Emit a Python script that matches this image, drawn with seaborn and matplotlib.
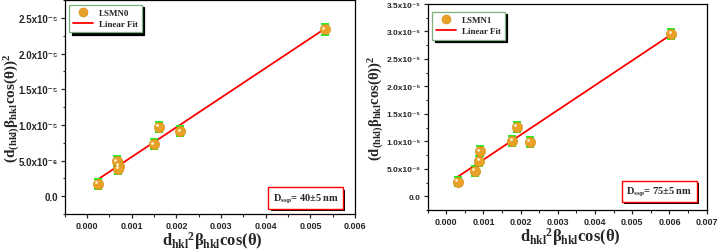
import numpy as np
import seaborn as sns
import matplotlib
matplotlib.use("Agg")
import matplotlib.pyplot as plt
from matplotlib.lines import Line2D
from matplotlib.ticker import FuncFormatter, MultipleLocator
import matplotlib.patheffects as pe
import matplotlib.transforms as mtransforms

# values
lsmn0_x = [0.00024, 0.00067, 0.00071, 0.00070, 0.00150, 0.00161, 0.00209, 0.00532]
lsmn0_y = [1.7e-6, 4.9e-6, 4.3e-6, 3.8e-6, 7.3e-6, 9.7e-6, 9.1e-6, 2.34e-5]
lsmn0_err = [7e-7, 7e-7, 7e-7, 7e-7, 7e-7, 7e-7, 7e-7, 8e-7]

lsmn1_x = [0.00031, 0.00077, 0.00090, 0.00089, 0.00178, 0.00189, 0.00225, 0.00605]
lsmn1_y = [2.7e-6, 4.6e-6, 8.2e-6, 6.5e-6, 1.01e-5, 1.27e-5, 9.9e-6, 2.96e-5]
lsmn1_err = [9e-7, 9e-7, 9e-7, 9e-7, 9e-7, 9e-7, 9e-7, 9e-7]

samples = ["LSMN0", "LSMN1"]
sizes = ["D$_{\\mathregular{ssp}}$= 40±5 nm", "D$_{\\mathregular{ssp}}$= 75±5 nm"]

sns.set_style("white")
plt.rcParams['font.family'] = ['Liberation Sans', 'DejaVu Sans']
plt.rcParams['font.weight'] = 'bold'
plt.rcParams['mathtext.fontset'] = 'custom'
plt.rcParams['mathtext.rm'] = 'Liberation Serif:bold'
plt.rcParams['mathtext.it'] = 'Liberation Serif:bold'
plt.rcParams['mathtext.bf'] = 'Liberation Serif:bold'

SUP = str.maketrans("-0123456789", "⁻⁰¹²³⁴⁵⁶⁷⁸⁹")


def sci_fmt(v, pos):
    if abs(v) < 1e-12:
        return "0.0"
    e = int(np.floor(np.log10(abs(v))))
    return f"{v / 10**e:.1f}x10" + str(e).translate(SUP)


orange = '#E9A227'
green = '#22EE22'
serif = ['Liberation Serif', 'DejaVu Serif']

fig = plt.figure(figsize=(7.2, 2.51), dpi=100)
ax1 = fig.add_axes([0.090, 0.143, 0.403, 0.853])
ax2 = fig.add_axes([0.594, 0.159, 0.3875, 0.821])

# axes, data, limits, ytick size, ylabel size, ylabel x, xlabel y, text box pos
panels = [
    (ax1, lsmn0_x, lsmn0_y, lsmn0_err, (-0.0005, 0.006), (-2.5e-6, 2.75e-5), 7, 11, -0.148, -0.07, (0.716, 0.075)),
    (ax2, lsmn1_x, lsmn1_y, lsmn1_err, (-0.0005, 0.007), (-2.5e-6, 3.5e-5), 6, 10.5, -0.148, -0.075, (0.712, 0.09)),
]

for i, (ax, xs, ys, errs, xlim, ylim, yts, yls, ylx, xly, boxpos) in enumerate(panels):
    # linear fit
    sns.regplot(x=np.array(xs), y=np.array(ys), ax=ax, scatter=False, ci=None,
                truncate=True, color='red', line_kws={'lw': 1.3, 'zorder': 2})
    ax.errorbar(xs, ys, yerr=errs, fmt='none', ecolor=green, elinewidth=1.4,
                capsize=2.8, capthick=1.4, zorder=3)
    sns.scatterplot(x=xs, y=ys, ax=ax, color=orange, s=55, edgecolor='#C98A10',
                    linewidth=0.4, zorder=4)
    # small highlight on the balls
    hl = mtransforms.offset_copy(ax.transData, fig=fig, x=-1.2, y=1.2, units='points')
    ax.scatter(xs, ys, s=4, color='#FFF4D8', transform=hl, zorder=5, linewidths=0)

    ax.set_xlim(*xlim)
    ax.set_ylim(*ylim)
    ax.xaxis.set_major_locator(MultipleLocator(0.001))
    ax.xaxis.set_minor_locator(MultipleLocator(0.0005))
    ax.yaxis.set_major_locator(MultipleLocator(5e-6))
    ax.yaxis.set_minor_locator(MultipleLocator(2.5e-6))
    ax.xaxis.set_major_formatter(FuncFormatter(lambda v, p: f"{v:.3f}"))
    ax.yaxis.set_major_formatter(FuncFormatter(sci_fmt))
    ax.tick_params(axis='both', which='major', direction='out', length=3, width=0.9,
                   pad=2, bottom=True, left=True, top=False, right=False)
    ax.tick_params(axis='x', labelsize=6.5)
    ax.tick_params(axis='y', labelsize=yts)
    ax.tick_params(axis='both', which='minor', direction='out', length=1.8, width=0.8,
                   bottom=True, left=True, top=False, right=False)
    for lab in ax.get_xticklabels() + ax.get_yticklabels():
        lab.set_fontweight('bold')
    for s in ax.spines.values():
        s.set_linewidth(0.9)
        s.set_color('black')

    ax.set_ylabel(r'$(d_{(hkl)}\beta_{hkl}cos(\theta))^2$', fontsize=yls)
    ax.set_xlabel(r'$d_{hkl}{}^2\beta_{hkl}cos(\theta)$', fontsize=12)
    ax.yaxis.set_label_coords(ylx, 0.5)
    ax.xaxis.set_label_coords(0.51, xly)

    handles = [
        Line2D([], [], marker='o', ls='none', color=orange, markersize=6.5,
               markeredgecolor='#C98A10', markeredgewidth=0.4),
        Line2D([], [], color='red', lw=1.3),
    ]
    leg = ax.legend(handles, [samples[i], 'Linear Fit'], loc='upper left',
                    bbox_to_anchor=(0.0, 1.0) if i == 0 else (0.0, 0.985),
                    prop={'family': serif, 'weight': 'bold', 'size': 6.5},
                    frameon=True, fancybox=False, handlelength=2.2,
                    borderpad=0.45, labelspacing=0.35, handletextpad=0.6,
                    shadow={'color': 'black', 'alpha': 1, 'ox': 2, 'oy': -2})
    leg.get_frame().set_edgecolor('#7DB07D')
    leg.get_frame().set_linewidth(0.9)
    leg.get_frame().set_alpha(1)

    t = ax.text(boxpos[0], boxpos[1], sizes[i], transform=ax.transAxes,
                family=serif, weight='bold', fontsize=7.5, va='center', ha='left',
                bbox=dict(boxstyle='square,pad=0.4', fc='white', ec='red', lw=1.0),
                zorder=6)
    t.get_bbox_patch().set_path_effects([
        pe.SimplePatchShadow(offset=(1.6, -1.6), shadow_rgbFace='black', alpha=1),
        pe.Normal()])

fig.savefig('out.png', dpi=100)
